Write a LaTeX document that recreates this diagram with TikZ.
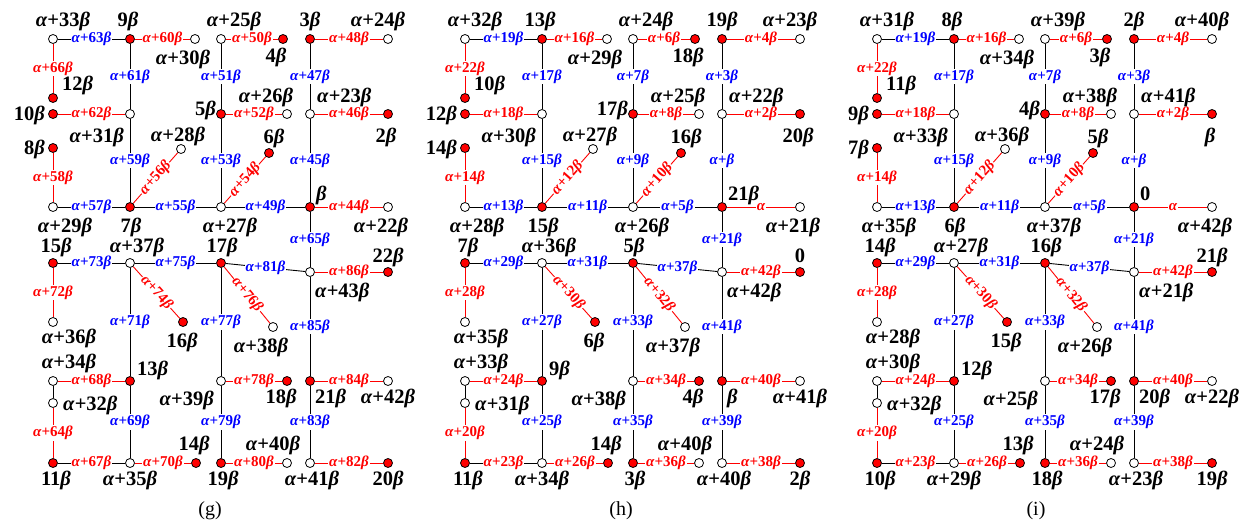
\documentclass[tikz,border=0pt]{standalone}
\usepackage{fontspec}
\setmainfont{Liberation Serif}
\usetikzlibrary{backgrounds}
\newcommand\Al{\textit{α}}
\newcommand\Be{\textit{β}}
\definecolor{lred}{RGB}{255,0,0}
\definecolor{lblue}{RGB}{0,0,255}
\tikzset{
  rdot/.style={circle,draw=black,fill=lred,inner sep=0pt,minimum size=9pt,line width=0.8pt},
  wdot/.style={circle,draw=black,fill=white,inner sep=0pt,minimum size=9pt,line width=0.8pt},
  nlab/.style={font=\fontsize{20.5}{20.5}\selectfont\bfseries,inner sep=0pt},
  elab/.style={font=\fontsize{15}{15}\selectfont\bfseries,fill=white,inner sep=1pt},
  eb/.style={draw=black,line width=0.9pt},
  er/.style={draw=lred,line width=0.9pt},
  ers/.style={er},
  ex/.style={eb},
  eb-l/.style={elab,text=lblue},
  er-l/.style={elab,text=lred},
  ers-l/.style={elab,text=lred,sloped},
  ex-l/.style={elab,text=lred},
  capt/.style={font=\fontsize{20}{20}\selectfont,inner sep=0pt}
}
\newcommand\setnl[1]{\foreach \v [count=\i] in {#1} {\expandafter\global\expandafter\let\csname nl\i\endcsname\v}}
\newcommand\setel[1]{\foreach \v [count=\i] in {#1} {\expandafter\global\expandafter\let\csname el\i\endcsname\v}}
\newcommand\N[7]{\node[#2] (n#1) at (#3,#4) {}; \node[nlab,anchor=#5] (t#1) at ({#3+#6},{#4+#7}) {\csname nl#1\endcsname};}
\newcommand\E[4]{\draw[#3] (n#1) -- node[#3-l] {\csname el#4\endcsname} (n#2);}
\newcommand\layout{%
\N{1}{wdot}{53}{39}{base}{10}{-13}
\N{2}{rdot}{130}{39}{base}{-2}{-13}
\N{3}{wdot}{195}{39}{base}{-12}{25}
\N{4}{wdot}{221}{39}{base}{13}{-13}
\N{5}{rdot}{283}{39}{base}{-7}{23}
\N{6}{rdot}{310}{39}{base}{0}{-13}
\N{7}{wdot}{388}{39}{base}{-10}{-13}
\N{8}{rdot}{53}{98}{base west}{9}{-8}
\N{9}{rdot}{53}{114}{base east}{-8}{6}
\N{10}{wdot}{130}{114}{base east}{-6}{28}
\N{11}{rdot}{221}{114}{base east}{-5}{1}
\N{12}{wdot}{287}{114}{base}{-21}{-12}
\N{13}{wdot}{310}{114}{base west}{7}{-12}
\N{14}{rdot}{388}{114}{base}{-2}{28}
\N{15}{rdot}{53}{148}{base east}{-8}{6}
\N{16}{wdot}{181}{149}{base}{-3}{-8}
\N{17}{rdot}{269}{153}{base}{5}{-10}
\N{18}{wdot}{53}{207}{base}{12}{25}
\N{19}{rdot}{130}{207}{base}{1}{25}
\N{20}{wdot}{221}{207}{base}{9}{25}
\N{21}{rdot}{310}{207}{base west}{6}{-7}
\N{22}{wdot}{388}{207}{base}{-7}{25}
\N{23}{rdot}{53}{263}{base}{3}{-11}
\N{24}{wdot}{130}{263}{base}{7}{-11}
\N{25}{rdot}{221}{263}{base}{1}{-11}
\N{26}{wdot}{310}{272}{base west}{5}{25}
\N{27}{rdot}{388}{272}{base}{0}{-10}
\N{28}{wdot}{53}{322}{base}{16}{21}
\N{29}{rdot}{183}{322}{base}{-1}{25}
\N{30}{wdot}{273}{327}{base}{-12}{25}
\N{31}{wdot}{53}{381}{base}{16}{-13}
\N{32}{rdot}{130}{381}{base west}{7}{-6}
\N{33}{wdot}{221}{381}{base east}{-7}{24}
\N{34}{rdot}{287}{381}{base}{-6}{22}
\N{35}{rdot}{310}{381}{base west}{5}{22}
\N{36}{wdot}{388}{381}{base}{0}{22}
\N{37}{wdot}{53}{403}{base west}{10}{7}
\N{38}{rdot}{53}{463}{base}{3}{22}
\N{39}{wdot}{130}{463}{base}{0}{22}
\N{40}{rdot}{196}{463}{base}{-2}{-13}
\N{41}{rdot}{221}{463}{base}{2}{22}
\N{42}{wdot}{287}{463}{base}{-14}{-13}
\N{43}{wdot}{310}{463}{base}{2}{22}
\N{44}{rdot}{388}{463}{base}{0}{22}
\begin{pgfonlayer}{background}
\E{1}{2}{eb}{1}
\E{2}{3}{er}{2}
\E{1}{8}{er}{3}
\E{9}{10}{er}{4}
\E{2}{10}{eb}{5}
\E{10}{19}{eb}{6}
\E{15}{18}{er}{7}
\E{18}{19}{eb}{8}
\E{19}{16}{ers}{9}
\E{19}{20}{eb}{10}
\E{4}{5}{er}{11}
\E{4}{11}{eb}{12}
\E{11}{12}{er}{13}
\E{11}{20}{eb}{14}
\E{20}{17}{ers}{15}
\E{20}{21}{eb}{16}
\E{6}{7}{er}{17}
\E{6}{13}{eb}{18}
\E{13}{14}{er}{19}
\E{13}{21}{eb}{20}
\E{21}{22}{er}{21}
\E{21}{26}{eb}{22}
\E{23}{24}{eb}{23}
\E{23}{28}{er}{24}
\E{24}{25}{eb}{25}
\E{24}{29}{ers}{26}
\E{24}{32}{eb}{27}
\E{25}{26}{eb}{28}
\E{25}{30}{ers}{29}
\E{25}{33}{eb}{30}
\E{26}{27}{er}{31}
\E{26}{35}{eb}{32}
\E{31}{32}{er}{33}
\draw[eb] (n31) -- (n37);
\E{37}{38}{er}{34}
\E{38}{39}{ex}{35}
\E{32}{39}{eb}{36}
\E{39}{40}{er}{37}
\E{33}{34}{er}{38}
\E{33}{41}{eb}{39}
\E{41}{42}{er}{40}
\E{35}{36}{er}{41}
\E{35}{43}{eb}{42}
\E{43}{44}{er}{43}
\end{pgfonlayer}
}
\newcommand\elhi{\Al+19\Be,\Al+16\Be,\Al+22\Be,\Al+18\Be,\Al+17\Be,\Al+15\Be,\Al+14\Be,\Al+13\Be,\Al+12\Be,\Al+11\Be,\Al+6\Be,\Al+7\Be,\Al+8\Be,\Al+9\Be,\Al+10\Be,\Al+5\Be,\Al+4\Be,\Al+3\Be,\Al+2\Be,\Al+\Be,\Al,\Al+21\Be,\Al+29\Be,\Al+28\Be,\Al+31\Be,\Al+30\Be,\Al+27\Be,\Al+37\Be,\Al+32\Be,\Al+33\Be,\Al+42\Be,\Al+41\Be,\Al+24\Be,\Al+20\Be,\Al+23\Be,\Al+25\Be,\Al+26\Be,\Al+34\Be,\Al+35\Be,\Al+36\Be,\Al+40\Be,\Al+39\Be,\Al+38\Be}
\begin{document}
\begin{tikzpicture}[x=1pt,y=-1pt]
\path[use as bounding box] (0,0) rectangle (1244,525);
\begin{scope}[name prefix=g-]
\setnl{\Al+33\Be,9\Be,\Al+30\Be,\Al+25\Be,4\Be,3\Be,\Al+24\Be,12\Be,10\Be,\Al+31\Be,5\Be,\Al+26\Be,\Al+23\Be,2\Be,8\Be,\Al+28\Be,6\Be,\Al+29\Be,7\Be,\Al+27\Be,\Be,\Al+22\Be,15\Be,\Al+37\Be,17\Be,\Al+43\Be,22\Be,\Al+36\Be,16\Be,\Al+38\Be,\Al+34\Be,13\Be,\Al+39\Be,18\Be,21\Be,\Al+42\Be,\Al+32\Be,11\Be,\Al+35\Be,14\Be,19\Be,\Al+40\Be,\Al+41\Be,20\Be}
\setel{\Al+63\Be,\Al+60\Be,\Al+66\Be,\Al+62\Be,\Al+61\Be,\Al+59\Be,\Al+58\Be,\Al+57\Be,\Al+56\Be,\Al+55\Be,\Al+50\Be,\Al+51\Be,\Al+52\Be,\Al+53\Be,\Al+54\Be,\Al+49\Be,\Al+48\Be,\Al+47\Be,\Al+46\Be,\Al+45\Be,\Al+44\Be,\Al+65\Be,\Al+73\Be,\Al+72\Be,\Al+75\Be,\Al+74\Be,\Al+71\Be,\Al+81\Be,\Al+76\Be,\Al+77\Be,\Al+86\Be,\Al+85\Be,\Al+68\Be,\Al+64\Be,\Al+67\Be,\Al+69\Be,\Al+70\Be,\Al+78\Be,\Al+79\Be,\Al+80\Be,\Al+84\Be,\Al+83\Be,\Al+82\Be}
\layout
\node[capt] (capg) at (210,511) {(g)};
\end{scope}
\begin{scope}[name prefix=h-,shift={(412,0)}]
\setnl{\Al+32\Be,13\Be,\Al+29\Be,\Al+24\Be,18\Be,19\Be,\Al+23\Be,10\Be,12\Be,\Al+30\Be,17\Be,\Al+25\Be,\Al+22\Be,20\Be,14\Be,\Al+27\Be,16\Be,\Al+28\Be,15\Be,\Al+26\Be,21\Be,\Al+21\Be,7\Be,\Al+36\Be,5\Be,\Al+42\Be,0,\Al+35\Be,6\Be,\Al+37\Be,\Al+33\Be,9\Be,\Al+38\Be,4\Be,\Be,\Al+41\Be,\Al+31\Be,11\Be,\Al+34\Be,14\Be,3\Be,\Al+40\Be,\Al+40\Be,2\Be}
\expandafter\setel\expandafter{\elhi}
\layout
\node[capt] (caph) at (209,511) {(h)};
\end{scope}
\begin{scope}[name prefix=i-,shift={(824,0)}]
\setnl{\Al+31\Be,8\Be,\Al+34\Be,\Al+39\Be,3\Be,2\Be,\Al+40\Be,11\Be,9\Be,\Al+33\Be,4\Be,\Al+38\Be,\Al+41\Be,\Be,7\Be,\Al+36\Be,5\Be,\Al+35\Be,6\Be,\Al+37\Be,0,\Al+42\Be,14\Be,\Al+27\Be,16\Be,\Al+21\Be,21\Be,\Al+28\Be,15\Be,\Al+26\Be,\Al+30\Be,12\Be,\Al+25\Be,17\Be,20\Be,\Al+22\Be,\Al+32\Be,10\Be,\Al+29\Be,13\Be,18\Be,\Al+24\Be,\Al+23\Be,19\Be}
\expandafter\setel\expandafter{\elhi}
\layout
\node[capt] (capi) at (212,511) {(i)};
\end{scope}
\end{tikzpicture}
\end{document}
